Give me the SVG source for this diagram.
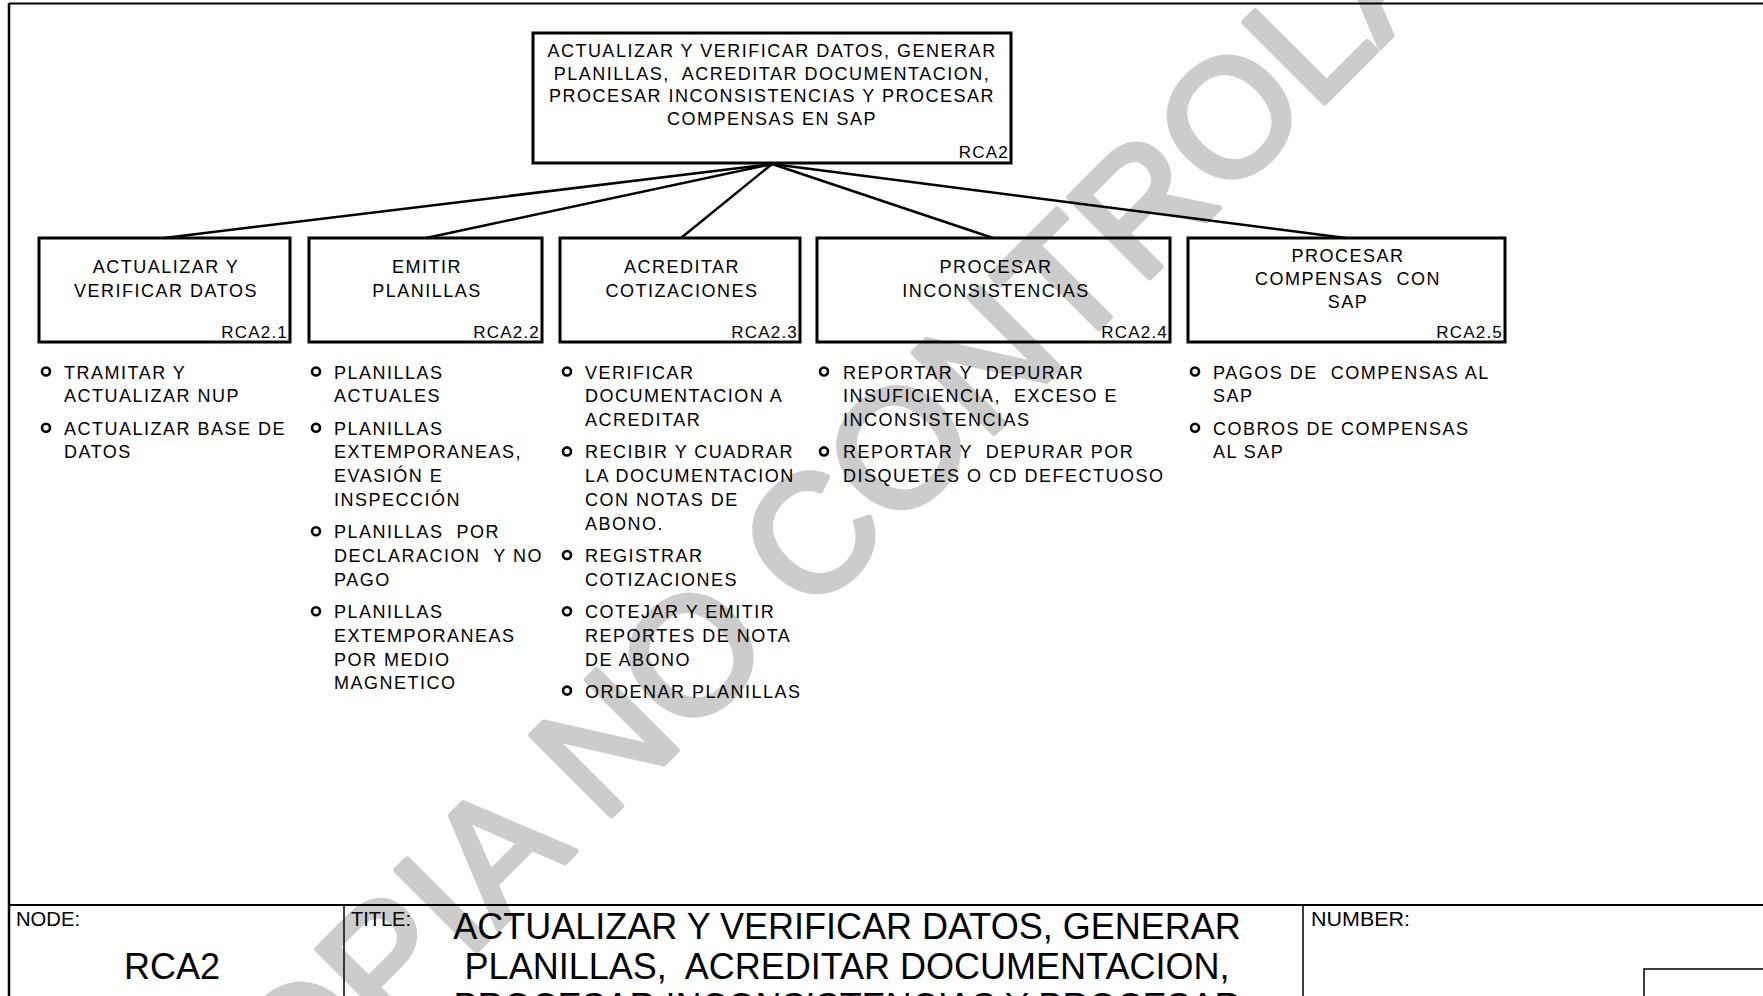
<svg xmlns="http://www.w3.org/2000/svg" width="1763" height="996" viewBox="0 0 1763 996" xml:space="preserve">
<style>
text{font-family:'Liberation Sans',Arial,sans-serif;fill:#000;white-space:pre}
.t{font-size:18px;letter-spacing:1.5px}
.c{text-anchor:middle}
.r{text-anchor:end;font-size:17px;letter-spacing:1.2px}
.box{fill:none;stroke:#000;stroke-width:3}
.con{stroke:#000;stroke-width:2.5;fill:none}
.b{fill:none;stroke:#000;stroke-width:2.6}
.frame{stroke:#000;fill:none}
.wm{font-size:165px;fill:#cccccc;stroke:#cccccc;stroke-width:6;stroke-linejoin:round}
.small{font-size:19.5px}
.big{font-size:36px}
</style>

<g id="watermark">
<text class="wm" transform="translate(213,1214) rotate(-45)">COPIA NO CONTROLADA</text>
</g>

<g id="frame">
<line class="frame" x1="9" y1="3.5" x2="1763" y2="3.5" stroke-width="2"/>
<line class="frame" x1="9" y1="3" x2="9" y2="996" stroke-width="2.5"/>
</g>

<g id="connectors">
<line class="con" x1="772" y1="164" x2="164" y2="238"/>
<line class="con" x1="772" y1="164" x2="426" y2="238"/>
<line class="con" x1="772" y1="164" x2="681" y2="238"/>
<line class="con" x1="772" y1="164" x2="993" y2="238"/>
<line class="con" x1="772" y1="164" x2="1346" y2="238"/>
</g>

<g id="RCA2">
<rect class="box" x="533" y="33" width="478" height="130"/>
<text class="t c" x="772" y="57">ACTUALIZAR Y VERIFICAR DATOS, GENERAR</text>
<text class="t c" x="772" y="79.5">PLANILLAS,  ACREDITAR DOCUMENTACION,</text>
<text class="t c" x="772" y="102">PROCESAR INCONSISTENCIAS Y PROCESAR</text>
<text class="t c" x="772" y="124.5">COMPENSAS EN SAP</text>
<text class="r" x="1009" y="158">RCA2</text>
</g>

<g id="RCA2.1">
<rect class="box" x="39" y="238" width="251" height="104"/>
<text class="t c" x="166" y="273">ACTUALIZAR Y</text>
<text class="t c" x="166" y="296.5">VERIFICAR DATOS</text>
<text class="r" x="288" y="338">RCA2.1</text>
</g>

<g id="RCA2.2">
<rect class="box" x="309" y="238" width="233" height="104"/>
<text class="t c" x="427" y="273">EMITIR</text>
<text class="t c" x="427" y="296.5">PLANILLAS</text>
<text class="r" x="540" y="338">RCA2.2</text>
</g>

<g id="RCA2.3">
<rect class="box" x="560" y="238" width="240" height="104"/>
<text class="t c" x="682" y="273">ACREDITAR</text>
<text class="t c" x="682" y="296.5">COTIZACIONES</text>
<text class="r" x="798" y="338">RCA2.3</text>
</g>

<g id="RCA2.4">
<rect class="box" x="817" y="238" width="353" height="104"/>
<text class="t c" x="996" y="273">PROCESAR</text>
<text class="t c" x="996" y="296.5">INCONSISTENCIAS</text>
<text class="r" x="1168" y="338">RCA2.4</text>
</g>

<g id="RCA2.5">
<rect class="box" x="1188" y="238" width="317" height="104"/>
<text class="t c" x="1348" y="261.5">PROCESAR</text>
<text class="t c" x="1348" y="284.5">COMPENSAS  CON</text>
<text class="t c" x="1348" y="307.5">SAP</text>
<text class="r" x="1503" y="338">RCA2.5</text>
</g>

<g id="list-RCA2.1">
<circle class="b" cx="46" cy="371.5" r="4"/>
<text class="t" x="64" y="378.5">TRAMITAR Y</text>
<text class="t" x="64" y="402.2">ACTUALIZAR NUP</text>
<circle class="b" cx="46" cy="427.7" r="4"/>
<text class="t" x="64" y="434.7">ACTUALIZAR BASE DE</text>
<text class="t" x="64" y="458.4">DATOS</text>
</g>

<g id="list-RCA2.2">
<circle class="b" cx="316" cy="371.5" r="4"/>
<text class="t" x="334" y="378.5">PLANILLAS</text>
<text class="t" x="334" y="402.2">ACTUALES</text>
<circle class="b" cx="316" cy="427.7" r="4"/>
<text class="t" x="334" y="434.7">PLANILLAS</text>
<text class="t" x="334" y="458.4">EXTEMPORANEAS,</text>
<text class="t" x="334" y="482.1">EVASIÓN E</text>
<text class="t" x="334" y="505.8">INSPECCIÓN</text>
<circle class="b" cx="316" cy="531.3" r="4"/>
<text class="t" x="334" y="538.3">PLANILLAS  POR</text>
<text class="t" x="334" y="562">DECLARACION  Y NO</text>
<text class="t" x="334" y="585.7">PAGO</text>
<circle class="b" cx="316" cy="611.2" r="4"/>
<text class="t" x="334" y="618.2">PLANILLAS</text>
<text class="t" x="334" y="641.9">EXTEMPORANEAS</text>
<text class="t" x="334" y="665.6">POR MEDIO</text>
<text class="t" x="334" y="689.3">MAGNETICO</text>
</g>

<g id="list-RCA2.3">
<circle class="b" cx="567" cy="371.5" r="4"/>
<text class="t" x="585" y="378.5">VERIFICAR</text>
<text class="t" x="585" y="402.2">DOCUMENTACION A</text>
<text class="t" x="585" y="425.9">ACREDITAR</text>
<circle class="b" cx="567" cy="451.4" r="4"/>
<text class="t" x="585" y="458.4">RECIBIR Y CUADRAR</text>
<text class="t" x="585" y="482.1">LA DOCUMENTACION</text>
<text class="t" x="585" y="505.8">CON NOTAS DE</text>
<text class="t" x="585" y="529.5">ABONO.</text>
<circle class="b" cx="567" cy="555" r="4"/>
<text class="t" x="585" y="562">REGISTRAR</text>
<text class="t" x="585" y="585.7">COTIZACIONES</text>
<circle class="b" cx="567" cy="611.2" r="4"/>
<text class="t" x="585" y="618.2">COTEJAR Y EMITIR</text>
<text class="t" x="585" y="641.9">REPORTES DE NOTA</text>
<text class="t" x="585" y="665.6">DE ABONO</text>
<circle class="b" cx="567" cy="690.6" r="4"/>
<text class="t" x="585" y="697.6">ORDENAR PLANILLAS</text>
</g>

<g id="list-RCA2.4">
<circle class="b" cx="824" cy="371.5" r="4"/>
<text class="t" x="843" y="378.5">REPORTAR Y  DEPURAR</text>
<text class="t" x="843" y="402.2">INSUFICIENCIA,  EXCESO E</text>
<text class="t" x="843" y="425.9">INCONSISTENCIAS</text>
<circle class="b" cx="824" cy="451.4" r="4"/>
<text class="t" x="843" y="458.4">REPORTAR Y  DEPURAR POR</text>
<text class="t" x="843" y="482.1">DISQUETES O CD DEFECTUOSO</text>
</g>

<g id="list-RCA2.5">
<circle class="b" cx="1195" cy="371.5" r="4"/>
<text class="t" x="1213" y="378.5">PAGOS DE  COMPENSAS AL</text>
<text class="t" x="1213" y="402.2">SAP</text>
<circle class="b" cx="1195" cy="427.7" r="4"/>
<text class="t" x="1213" y="434.7">COBROS DE COMPENSAS</text>
<text class="t" x="1213" y="458.4">AL SAP</text>
</g>

<g id="title-block">
<line class="frame" x1="9" y1="905" x2="1763" y2="905" stroke-width="2"/>
<line class="frame" x1="344" y1="905" x2="344" y2="996" stroke-width="1.5"/>
<line class="frame" x1="1303" y1="905" x2="1303" y2="996" stroke-width="1.5"/>
<polyline class="frame" points="1644,996 1644,969 1763,969" stroke-width="1.5"/>
<text class="small" x="16" y="926" textLength="64" lengthAdjust="spacingAndGlyphs">NODE:</text>
<text class="big c" x="172" y="979">RCA2</text>
<text class="small" x="351" y="926" textLength="60" lengthAdjust="spacingAndGlyphs">TITLE:</text>
<text class="big c" x="847" y="939">ACTUALIZAR Y VERIFICAR DATOS, GENERAR</text>
<text class="big c" x="847" y="979">PLANILLAS,  ACREDITAR DOCUMENTACION,</text>
<text class="big c" x="847" y="1019">PROCESAR INCONSISTENCIAS Y PROCESAR</text>
<text class="small" x="1311" y="926" textLength="99" lengthAdjust="spacingAndGlyphs">NUMBER:</text>
</g>
</svg>
